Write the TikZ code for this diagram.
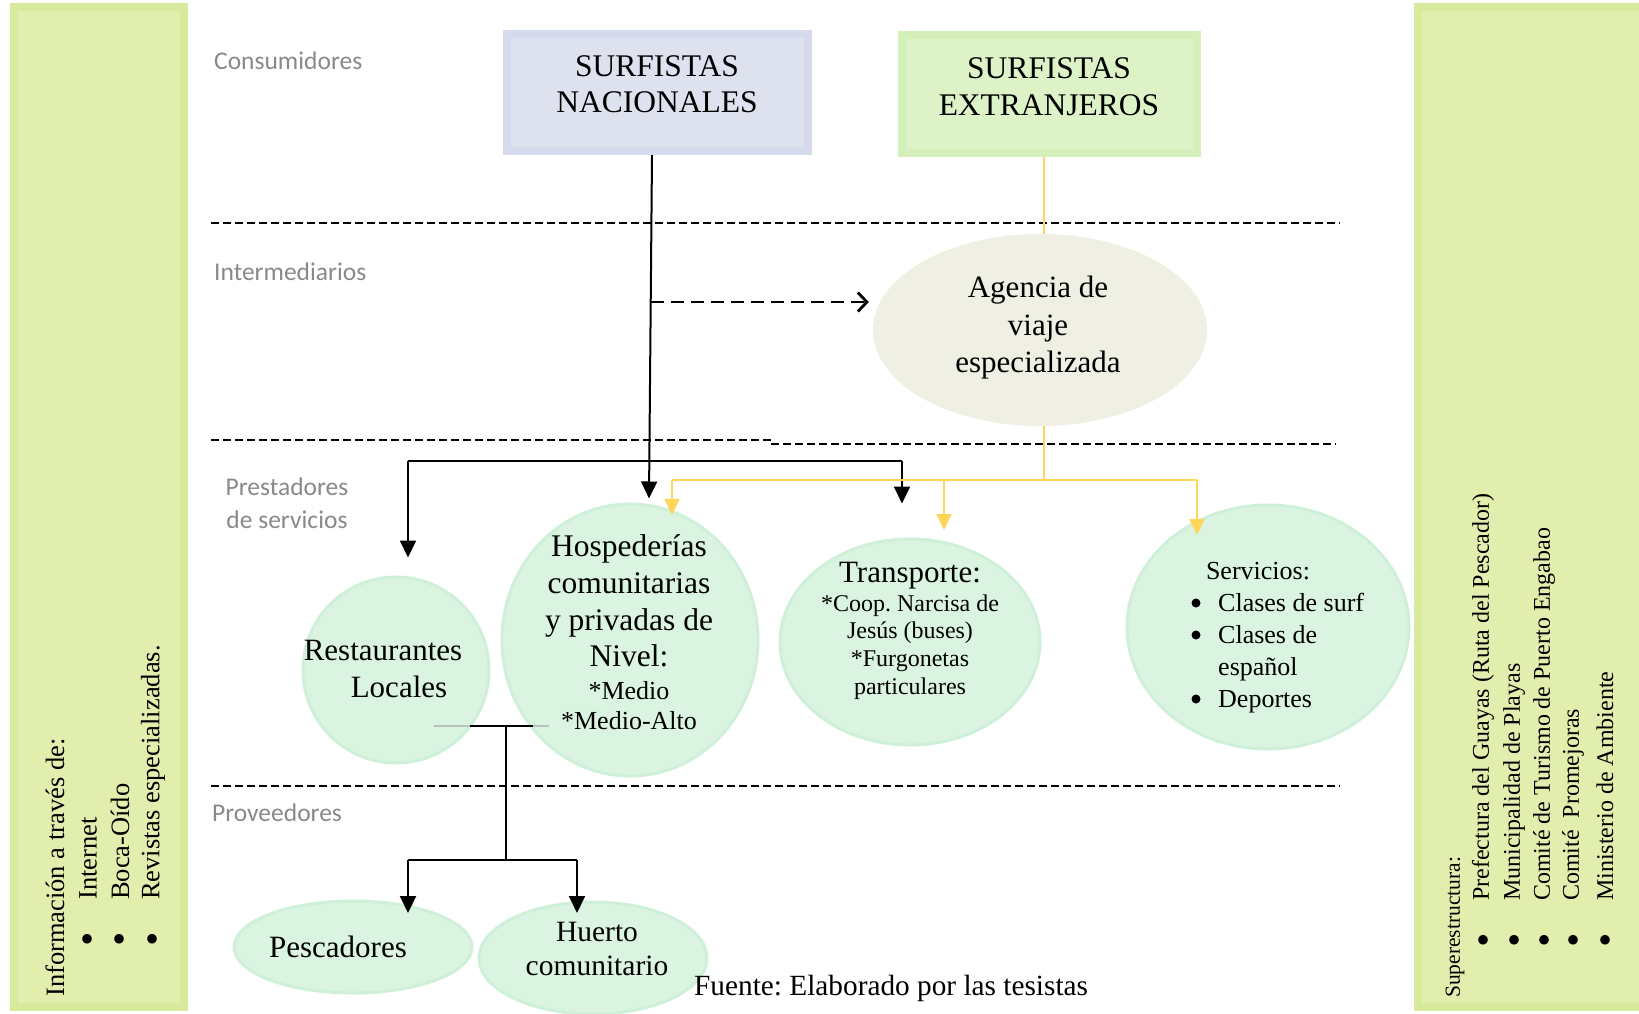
\documentclass[tikz,border=0pt]{standalone}
\usepackage{fontspec}
\setmainfont{Liberation Serif}
\newfontfamily\lblfont{Carlito}
\usetikzlibrary{arrows.meta,shapes.geometric}
\definecolor{panelB}{RGB}{216,234,156}
\definecolor{panelF}{RGB}{226,238,174}
\definecolor{nacF}{RGB}{222,226,239}
\definecolor{nacB}{RGB}{213,219,236}
\definecolor{extF}{RGB}{222,242,200}
\definecolor{extB}{RGB}{212,239,186}
\definecolor{mintF}{RGB}{218,244,225}
\definecolor{mintB}{RGB}{207,240,216}
\definecolor{agF}{RGB}{240,239,227}
\definecolor{ylw}{RGB}{255,214,90}
\definecolor{lblgray}{RGB}{137,137,137}
\definecolor{stubgray}{RGB}{185,195,190}
\frenchspacing
\begin{document}
\begin{tikzpicture}[x=1pt,y=-1pt,
  panel/.style={rectangle,draw=panelB,fill=panelF,line width=8pt,inner sep=0},
  sbox/.style={rectangle,line width=8pt,inner sep=0},
  mint/.style={ellipse,fill=mintF,draw=mintB,line width=3pt,inner sep=0},
  agency/.style={ellipse,fill=agF,inner sep=0},
  txt/.style={align=center,inner sep=0},
  lbl/.style={inner sep=0,text=lblgray,font=\lblfont\fontsize{25.5}{33}\selectfont},
  rot/.style={rotate=90,anchor=west,inner sep=0},
  sepline/.style={line width=2pt,dash pattern=on 7.5pt off 4.5pt},
  blk/.style={line width=2pt,draw=black},
  blkarr/.style={blk,-{Triangle[width=16pt,length=17pt]}},
  ylwline/.style={line width=2pt,draw=ylw},
  ylwarr/.style={ylwline,-{Triangle[width=15pt,length=16pt]}},
  dasharr/.style={line width=2.8pt,dash pattern=on 13pt off 7pt,-{Straight Barb[length=9pt,width=19pt]}},
  stub/.style={line width=2pt,draw=stubgray},
  bul/.style={inner sep=0,font=\fontsize{40}{40}\selectfont},
  dot/.style={circle,fill=black,inner sep=0,minimum size=9pt}
]
\useasboundingbox (0,0) rectangle (1639,1013);
\fill[white] (0,0) rectangle (1639,1013);

% side panels
\node[panel,minimum width=170,minimum height=1000] (lp) at (99,507) {};
\node[panel,minimum width=225,minimum height=1000] (rp) at (1530.5,507) {};

% separators
\draw[sepline] (211,223) -- (1340,223);
\draw[sepline] (211,440) -- (772,440) -- (772,444) -- (1336,444);
\draw[sepline] (211,786) -- (1340,786);

% level labels
\node[lbl,anchor=west] (l1) at (214,61) {Consumidores};
\node[lbl,anchor=west] (l2) at (214,272) {Intermediarios};
\node[lbl,align=center] (l3) at (287,503) {Prestadores\\de servicios};
\node[lbl,anchor=west] (l4) at (212,813) {Proveedores};

% consumer boxes
\node[sbox,draw=nacB,fill=nacF,minimum width=301,minimum height=117] (nac) at (657.5,92.5) {};
\node[txt,font=\fontsize{31.5}{36}\selectfont] (nact) at (657,84) {SURFISTAS\\NACIONALES};
\node[sbox,draw=extB,fill=extF,minimum width=295,minimum height=118] (ext) at (1049.5,94) {};
\node[txt,font=\fontsize{31.5}{37}\selectfont] (extt) at (1049,86.5) {SURFISTAS\\EXTRANJEROS};

% agency
\node[agency,minimum width=334,minimum height=192] (ag) at (1040,330) {};
\node[txt,font=\fontsize{31}{37.5}\selectfont] (agt) at (1038,328) {Agencia de\\viaje\\especializada};

% service providers
\node[mint,minimum width=186,minimum height=186] (rest) at (396,670) {};
\node[txt,font=\fontsize{31}{36}\selectfont] (rest1) at (383,650) {Restaurantes};
\node[txt,font=\fontsize{31}{36}\selectfont] (rest2) at (399,687) {Locales};

\node[mint,minimum width=256,minimum height=272] (hosp) at (630,640) {};
\node[txt,font=\fontsize{31.5}{36.7}\selectfont] (hospA) at (629,601) {Hospederías\\comunitarias\\y privadas de\\Nivel:};
\node[txt,font=\fontsize{26}{30}\selectfont] (hospB) at (629,706) {*Medio\\*Medio-Alto};

\node[mint,minimum width=260,minimum height=206] (trans) at (910,642) {};
\node[txt,font=\fontsize{31}{36}\selectfont] (transT) at (910,576) {Transporte:};
\node[txt,font=\fontsize{24}{27.7}\selectfont] (transL) at (910,647) {*Coop. Narcisa de\\Jesús (buses)\\*Furgonetas\\particulares};

\node[mint,minimum width=282,minimum height=244] (serv) at (1268,627) {};
\node[txt,font=\fontsize{26}{32}\selectfont] (servT) at (1258,571) {Servicios:};
\node[inner sep=0,align=left,anchor=west,font=\fontsize{26}{32}\selectfont] (servL) at (1218,653)
  {Clases de surf\\Clases de\\español\\Deportes};
\node[dot] (sb1) at (1196,603) {};
\node[dot] (sb2) at (1196,635) {};
\node[dot] (sb3) at (1196,699) {};

% suppliers
\node[mint,minimum width=238,minimum height=92] (pesc) at (353,947) {};
\node[txt,font=\fontsize{31}{36}\selectfont] (pesct) at (338,947) {Pescadores};
\node[mint,minimum width=228,minimum height=112] (huer) at (593,958) {};
\node[txt,font=\fontsize{29.5}{34}\selectfont] (huert) at (597,949) {Huerto\\comunitario};

\node[txt,anchor=west,font=\fontsize{29.3}{34}\selectfont] (fuente) at (694,988) {Fuente: Elaborado por las tesistas};

% left panel text
\node[rot,font=\fontsize{26.5}{30}\selectfont] (lh) at (55,997) {Información a través de:};
\node[bul] (lb1) at (88,943) {\textbullet};
\node[bul] (lb2) at (120,943) {\textbullet};
\node[bul] (lb3) at (153,943) {\textbullet};
\node[rot,font=\fontsize{26.5}{30}\selectfont] (li1) at (88,900) {Internet};
\node[rot,font=\fontsize{26.5}{30}\selectfont] (li2) at (120,900) {Boca-Oído};
\node[rot,font=\fontsize{26.5}{30}\selectfont] (li3) at (153,900) {Revistas especializadas.};

% right panel text
\node[rot,font=\fontsize{21.5}{26}\selectfont] (rh) at (1455,998) {Superestructura:};
\foreach \i/\x in {1/1483,2/1514,3/1544,4/1573,5/1605}{
  \node[bul] (rb\i) at (\x,944) {\textbullet};
}
\node[rot,font=\fontsize{24}{28}\selectfont] (ri1) at (1483,901) {Prefectura del Guayas (Ruta del Pescador)};
\node[rot,font=\fontsize{24}{28}\selectfont] (ri2) at (1514,901) {Municipalidad de Playas};
\node[rot,font=\fontsize{24}{28}\selectfont] (ri3) at (1544,901) {Comité de Turismo de Puerto Engabao};
\node[rot,font=\fontsize{24}{28}\selectfont] (ri4) at (1573,901) {Comité\ \ Promejoras};
\node[rot,font=\fontsize{24}{28}\selectfont] (ri5) at (1605,901) {Ministerio de Ambiente};

% connectors: nacionales
\draw[blkarr] ([xshift=-5.5pt]nac.south) -- ([xshift=19pt,yshift=4pt]hosp.north);
\coordinate (dj) at (651,302);
\draw[dasharr] (dj) -- ([xshift=-4pt]dj -| ag.west);
\coordinate (bl) at (408,461);
\coordinate (br) at (902,461);
\draw[blk] (bl) -- (br);
\draw[blkarr] (bl) -- ([yshift=18pt]bl |- rest.north);
\draw[blkarr] (br) -- ([yshift=34pt]br |- trans.north);

% connectors: extranjeros / agency
\coordinate (yt) at (1044,157);
\draw[ylwline] (yt) -- (yt |- ag.north);
\coordinate (yj) at (1044,480);
\draw[ylwline] (yj |- ag.south) -- (yj);
\coordinate (ya) at (672,480);
\coordinate (yb) at (944,480);
\coordinate (yc) at (1197,480);
\draw[ylwline] (ya) -- (yc);
\draw[ylwarr] (ya) -- ++(0,35);
\draw[ylwarr] (yb) -- ++(0,50);
\draw[ylwarr] (yc) -- ++(0,55);

% connectors: suppliers
\coordinate (sL) at (434,726);
\coordinate (sA) at (470,726);
\coordinate (sM) at (506,726);
\coordinate (sB) at (533,726);
\coordinate (sR) at (549,726);
\draw[stub] (sL) -- (sA);
\draw[stub] (sB) -- (sR);
\draw[blk] (sA) -- (sB);
\coordinate (pj) at (506,860);
\coordinate (pl) at (408,860);
\coordinate (pr) at (577,860);
\draw[blk] (sM) -- (pj);
\draw[blk] (pl) -- (pr);
\draw[blkarr] (pl) -- ++(0,53);
\draw[blkarr] (pr) -- ++(0,53);
\end{tikzpicture}
\end{document}
